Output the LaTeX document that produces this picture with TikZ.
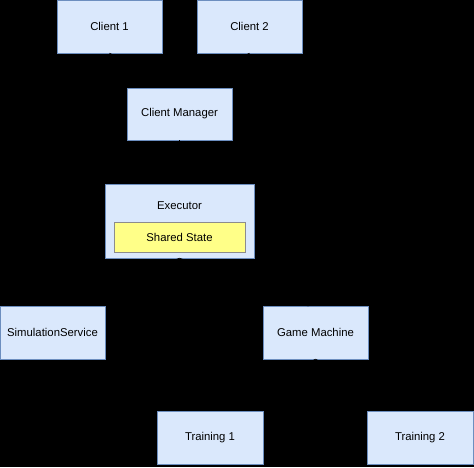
\documentclass[tikz,border=0pt]{standalone}
\usepackage{fontspec}
\setmainfont{Liberation Sans}
\usetikzlibrary{arrows.meta}
\definecolor{boxfill}{HTML}{DAE8FC}
\definecolor{boxline}{HTML}{6C8EBF}
\definecolor{statefill}{HTML}{FFFF88}
\definecolor{stateline}{HTML}{8C8C8C}
\tikzset{
  px/.style={x=0.75pt,y=-0.75pt},
  lbl/.style={font=\fontsize{8.5}{10}\selectfont},
  box/.style={draw=boxline,fill=boxfill,line width=0.6pt,inner sep=0pt,lbl},
  statebox/.style={draw=stateline,fill=statefill,line width=0.6pt,inner sep=0pt,lbl},
  conn/.style={draw=black,line width=0.75pt,-{Stealth[length=6pt,width=5pt]}}
}
\begin{document}
\begin{tikzpicture}[px]
\fill[black] (0,0) rectangle (474,467);
\useasboundingbox (0,0) rectangle (474,467);
% nodes
\node[box,minimum width=105*0.75pt,minimum height=53*0.75pt] (c1) at (109.5,26.5) {Client 1};
\node[box,minimum width=105*0.75pt,minimum height=53*0.75pt] (c2) at (249.5,26.5) {Client 2};
\node[box,minimum width=105*0.75pt,minimum height=52*0.75pt] (cm) at (179.5,114) {Client Manager};
\node[box,minimum width=149*0.75pt,minimum height=74*0.75pt] (ex) at (179.5,221) {};
\node[lbl] (exl) at (179.5,206) {Executor};
\node[statebox,minimum width=131*0.75pt,minimum height=30*0.75pt] (ss) at (179.5,237) {Shared State};
\node[box,minimum width=105*0.75pt,minimum height=53*0.75pt] (sim) at (52.5,332.5) {SimulationService};
\node[box,minimum width=105*0.75pt,minimum height=53*0.75pt] (gm) at (315.5,332.5) {Game Machine};
\node[box,minimum width=106*0.75pt,minimum height=53*0.75pt] (t1) at (210,437.5) {Training 1};
\node[box,minimum width=106*0.75pt,minimum height=53*0.75pt] (t2) at (420,437.5) {Training 2};
% connectors (black, as in the reference)
\draw[conn] (c1.south) -- (cm.north);
\draw[conn] (c2.south) -- (cm.north);
\draw[conn] (cm.south) -- (ex.north);
\draw[conn] (ex.south) -- (sim.north);
\draw[conn] (ex.south) -- (gm.north);
\draw[conn] (gm.south) -- (t1.north);
\draw[conn] (gm.south) -- (t2.north);
\end{tikzpicture}
\end{document}
